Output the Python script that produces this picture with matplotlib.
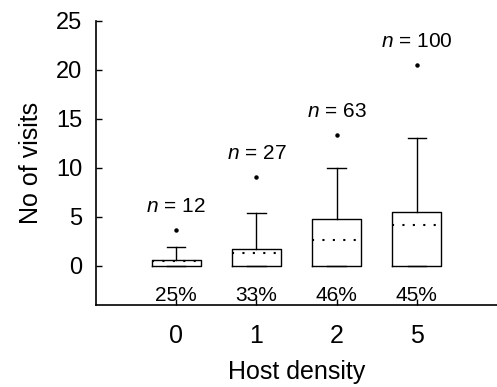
import matplotlib
matplotlib.use("Agg")
import matplotlib.pyplot as plt

# data
densities = ["0", "1", "2", "5"]
q1 = [0.0, 0.0, 0.0, 0.0]
medians = [0.5, 1.33, 2.62, 4.18]
q3 = [0.6, 1.73, 4.76, 5.48]
whisk_lo = [0.0, 0.0, 0.0, 0.0]
whisk_hi = [1.87, 5.37, 10.0, 13.0]
outliers = [3.67, 9.1, 13.4, 20.5]
n_obs = [12, 27, 63, 100]
percents = [25, 33, 46, 45]

plt.rcParams["font.family"] = ["Liberation Sans", "DejaVu Sans"]
plt.rcParams["mathtext.fontset"] = "custom"
plt.rcParams["mathtext.it"] = "Liberation Sans:italic"
plt.rcParams["mathtext.rm"] = "Liberation Sans"

fig = plt.figure(figsize=(4.97, 3.87), dpi=100)
ax = fig.add_axes([0.193, 0.212, 0.807, 0.734])

stats = []
for i in range(len(densities)):
    stats.append({
        "q1": q1[i], "med": medians[i], "q3": q3[i],
        "whislo": whisk_lo[i], "whishi": whisk_hi[i],
        "fliers": [outliers[i]], "label": densities[i],
    })

pos = list(range(len(densities)))
ax.bxp(stats, positions=pos, widths=0.61,
       boxprops=dict(color="black", linewidth=1.0),
       whiskerprops=dict(color="black", linewidth=1.0),
       capprops=dict(color="black", linewidth=1.0),
       capwidths=0.23,
       medianprops=dict(color="black", linewidth=1.5, linestyle=(0, (1, 4))),
       flierprops=dict(marker="o", markersize=2.2, markerfacecolor="black",
                       markeredgecolor="black"))

for i in pos:
    ax.text(i, outliers[i] + 2.4, r"$n$ = %d" % n_obs[i],
            ha="center", va="center", fontsize=15)
    ax.text(i, -3.0, "%d%%" % percents[i], ha="center", va="center", fontsize=15)

ax.set_xlim(-1, 4)
ax.set_ylim(-4, 25)
ax.set_yticks([0, 5, 10, 15, 20, 25])
ax.set_xticks(pos)
ax.set_xticklabels(densities)
ax.tick_params(direction="in", length=4, width=1)
ax.tick_params(axis="y", pad=10, labelsize=17)
ax.tick_params(axis="x", pad=14, labelsize=18)
ax.spines["top"].set_visible(False)
ax.spines["right"].set_visible(False)
for s in ["left", "bottom"]:
    ax.spines[s].set_linewidth(1.2)

ax.set_ylabel("No of visits", fontsize=18, labelpad=9)
ax.set_xlabel("Host density", fontsize=18, labelpad=8)

fig.savefig("out.png", dpi=100)
